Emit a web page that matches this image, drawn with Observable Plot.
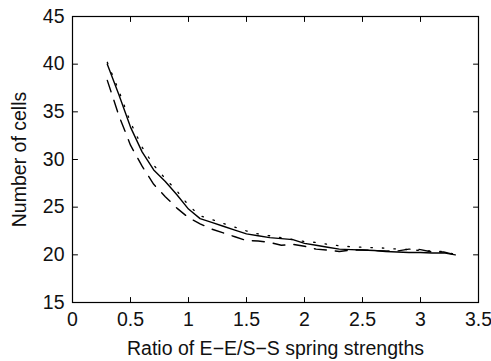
<!DOCTYPE html>
<html>
<head>
<meta charset="utf-8">
<script src="https://cdn.jsdelivr.net/npm/d3@7"></script>
<script src="https://cdn.jsdelivr.net/npm/@observablehq/plot@0.6"></script>
<style>
  html, body { margin: 0; padding: 0; background: #fff; }
  #chart svg { display: block; }
</style>
</head>
<body>
<div id="chart"></div>
<script>
const ratio = [0.3,0.4,0.5,0.6,0.7,0.8,0.9,1.0,1.1,1.2,1.3,1.4,1.5,1.6,1.7,1.8,1.9,2.0,2.1,2.2,2.3,2.4,2.5,2.6,2.7,2.8,2.9,3.0,3.1,3.2,3.3];
const solidCells = [40.0,36.8,33.4,30.8,28.9,27.7,26.3,24.8,23.8,23.4,23.0,22.6,22.2,22.0,21.8,21.7,21.6,21.2,21.0,20.8,20.6,20.55,20.5,20.45,20.35,20.3,20.25,20.25,20.2,20.2,20.0];
const dashedCells = [38.3,34.6,31.5,29.3,27.4,26.1,24.9,23.9,23.25,22.7,22.3,21.9,21.5,21.45,21.3,21.0,21.1,20.9,20.6,20.5,20.35,20.5,20.5,20.45,20.4,20.4,20.6,20.55,20.3,20.3,20.0];
const dottedCells = [40.2,37.2,33.9,31.3,29.4,28.0,26.7,25.2,24.1,23.7,23.3,22.9,22.5,22.2,22.0,21.8,21.6,21.4,21.3,21.1,20.95,20.85,20.8,20.75,20.7,20.6,20.55,20.45,20.4,20.35,20.05];
const xTicks = [0,0.5,1,1.5,2,2.5,3,3.5];
const yTicks = [15,20,25,30,35,40,45];
const xLabel = "Ratio of E\u2212E/S\u2212S spring strengths";
const yLabel = "Number of cells";

const toRows = (vals) => ratio.map((r, i) => ({x: r, y: vals[i]}));
const solid = toRows(solidCells);
const dashed = toRows(dashedCells);
const dotted = toRows(dottedCells);

const tickShape = {draw(ctx, l) { ctx.moveTo(0, 0); ctx.lineTo(0, -l); }};
const tickOpts = {length: 5, anchor: "start", shape: tickShape, stroke: "#000", strokeWidth: 1};

const chart = Plot.plot({
  width: 491,
  height: 361,
  marginLeft: 72,
  marginRight: 13,
  marginTop: 16,
  marginBottom: 59,
  style: {fontFamily: "'Liberation Sans', Arial, Helvetica, sans-serif", fontSize: "19.5px", color: "#111", background: "#fff"},
  x: {domain: [0, 3.5]},
  y: {domain: [15, 45]},
  marks: [
    Plot.line(dotted, {x: "x", y: "y", stroke: "#000", strokeWidth: 1.3, strokeDasharray: "1.5,10"}),
    Plot.line(dashed, {x: "x", y: "y", stroke: "#000", strokeWidth: 1.4, strokeDasharray: "12,9"}),
    Plot.line(solid, {x: "x", y: "y", stroke: "#000", strokeWidth: 1.4}),
    Plot.vector(xTicks, {x: d => d, frameAnchor: "bottom", rotate: 0, ...tickOpts}),
    Plot.vector(xTicks, {x: d => d, frameAnchor: "top", rotate: 180, ...tickOpts}),
    Plot.vector(yTicks, {y: d => d, frameAnchor: "left", rotate: 90, ...tickOpts}),
    Plot.vector(yTicks, {y: d => d, frameAnchor: "right", rotate: -90, ...tickOpts}),
    Plot.axisX({ticks: xTicks, tickSize: 0, tickPadding: 10, tickFormat: d => String(d), fontSize: 19.5,
      label: xLabel, labelAnchor: "center", labelOffset: 52, labelArrow: "none"}),
    Plot.axisY({ticks: yTicks, tickSize: 0, tickPadding: 8, tickFormat: d => String(d), fontSize: 19.5,
      label: yLabel, labelAnchor: "center", labelOffset: 60, labelArrow: "none"}),
    Plot.frame({stroke: "#000", strokeWidth: 1.2})
  ]
});
document.getElementById("chart").appendChild(chart);
</script>
</body>
</html>
